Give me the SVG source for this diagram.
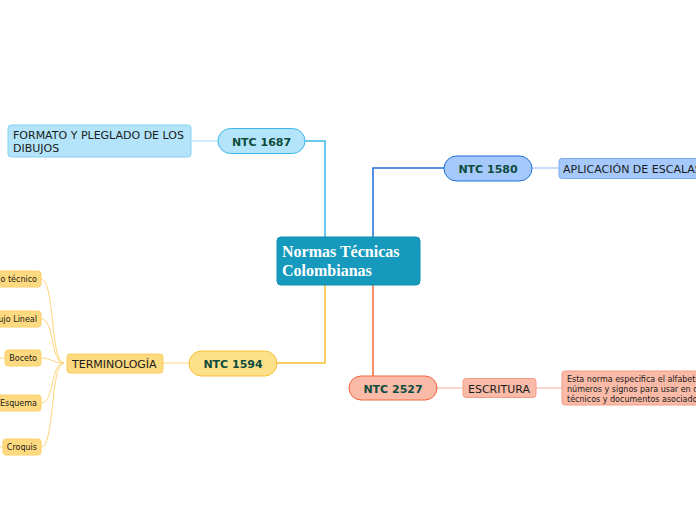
<svg xmlns="http://www.w3.org/2000/svg" width="696" height="520" viewBox="0 0 696 520">
<style>
text{font-family:"DejaVu Sans",Verdana,sans-serif;fill:#1b1b1b}
.ntc{font-size:11px;font-weight:bold;fill:#0d4b3c;text-anchor:middle}
.t11{font-size:11px}
.t8{font-size:8px}
.leaf{fill:#fdd97f;stroke:#fbd06c;stroke-width:1}
.conn{fill:none;stroke-width:1.5}
.thin{fill:none;stroke-width:1}
</style>
<rect width="696" height="520" fill="#ffffff"/>
<g id="connectors">
<path class="conn" d="M305,141 H325 V237" stroke="#3db5e6"/>
<path class="conn" d="M373,237 V168 H444" stroke="#1f6fd8"/>
<path class="conn" d="M325,285 V363 H277" stroke="#fbbf2c"/>
<path class="conn" d="M373,285 V376" stroke="#f26838"/>
<path class="thin" d="M191,141 H218" stroke="#9fdcf6"/>
<path class="thin" d="M532,168 H559" stroke="#8fbaf5"/>
<path class="thin" d="M163,363 H189" stroke="#fdd57a"/>
<path class="thin" d="M437,388 H463" stroke="#f8ad97"/>
<path class="thin" d="M536,388 H562" stroke="#f8ad97"/>
<path class="thin" stroke="#fdd57a" d="M41,279 C55,279 50,363 64,363 M41,319 C55,319 50,363 64,363 M41,358 C52,358 52,363 64,363 M41,403 C55,403 50,363 64,363 M41,447 C55,447 50,363 64,363 M0,358 H5 M0,447 H3"/>
</g>
<g id="center">
<rect x="277" y="237" width="143" height="48" rx="4" fill="#1599bc" stroke="#1290b1"/>
<text x="282" y="257" style="font-family:'Liberation Serif','Times New Roman',serif;font-weight:bold;font-size:16px;fill:#ffffff">Normas Técnicas</text>
<text x="282" y="276" style="font-family:'Liberation Serif','Times New Roman',serif;font-weight:bold;font-size:16px;fill:#ffffff">Colombianas</text>
</g>
<g id="ntc1687">
<rect x="218" y="128.5" width="87" height="25" rx="12.5" fill="#b3e4f9" stroke="#3bb6e8"/>
<text class="ntc" x="261.5" y="145.5">NTC 1687</text>
</g>
<g id="formato">
<rect x="8" y="125" width="183" height="32" rx="3" fill="#b3e4f9" stroke="#86d0f1"/>
<text class="t11" x="13" y="138.5">FORMATO Y PLEGLADO DE LOS</text>
<text class="t11" x="13" y="151.5">DIBUJOS</text>
</g>
<g id="ntc1580">
<rect x="444" y="156" width="88" height="25" rx="12.5" fill="#a6c9fc" stroke="#1e6fd9"/>
<text class="ntc" x="488" y="173">NTC 1580</text>
</g>
<g id="aplicacion">
<rect x="559" y="158.5" width="145" height="20" rx="3" fill="#a6c9fc" stroke="#7aacf0"/>
<text class="t11" x="563" y="172.5">APLICACIÓN DE ESCALAS</text>
</g>
<g id="ntc1594">
<rect x="189" y="351" width="88" height="25" rx="12.5" fill="#fde08a" stroke="#f7c035"/>
<text class="ntc" x="233" y="368">NTC 1594</text>
</g>
<g id="terminologia">
<rect x="67" y="354" width="96" height="19" rx="3" fill="#fdd97f" stroke="#f9cd62"/>
<text class="t11" x="72" y="368">TERMINOLOGÍA</text>
</g>
<g id="dibujo-tecnico">
<rect class="leaf" x="-30" y="271" width="71" height="16" rx="3"/>
<text class="t8" x="37" y="282" text-anchor="end">Dibujo técnico</text>
</g>
<g id="dibujo-lineal">
<rect class="leaf" x="-30" y="311" width="71" height="16" rx="3"/>
<text class="t8" x="37" y="322" text-anchor="end">Dibujo Lineal</text>
</g>
<g id="boceto">
<rect class="leaf" x="5" y="350" width="36" height="16" rx="3"/>
<text class="t8" x="37" y="361" text-anchor="end">Boceto</text>
</g>
<g id="esquema">
<rect class="leaf" x="-10" y="395" width="51" height="16" rx="3"/>
<text class="t8" x="37" y="406" text-anchor="end">Esquema</text>
</g>
<g id="croquis">
<rect class="leaf" x="3" y="439" width="38" height="16" rx="3"/>
<text class="t8" x="37" y="450" text-anchor="end">Croquis</text>
</g>
<g id="ntc2527">
<rect x="349" y="376" width="88" height="24" rx="12" fill="#f9bba8" stroke="#f0643b"/>
<text class="ntc" x="393" y="392.5">NTC 2527</text>
</g>
<g id="escritura">
<rect x="463" y="378.5" width="73" height="19" rx="3" fill="#f9bba8" stroke="#f39b82"/>
<text class="t11" x="468" y="392.5">ESCRITURA</text>
</g>
<g id="descripcion">
<rect x="562" y="371" width="150" height="34" rx="3" fill="#f9bba8" stroke="#f39b82"/>
<text class="t8" x="567" y="382">Esta norma especifica el alfabeto, los</text>
<text class="t8" x="567" y="392">números y signos para usar en dibujos</text>
<text class="t8" x="567" y="402">técnicos y documentos asociados.</text>
</g>
</svg>
